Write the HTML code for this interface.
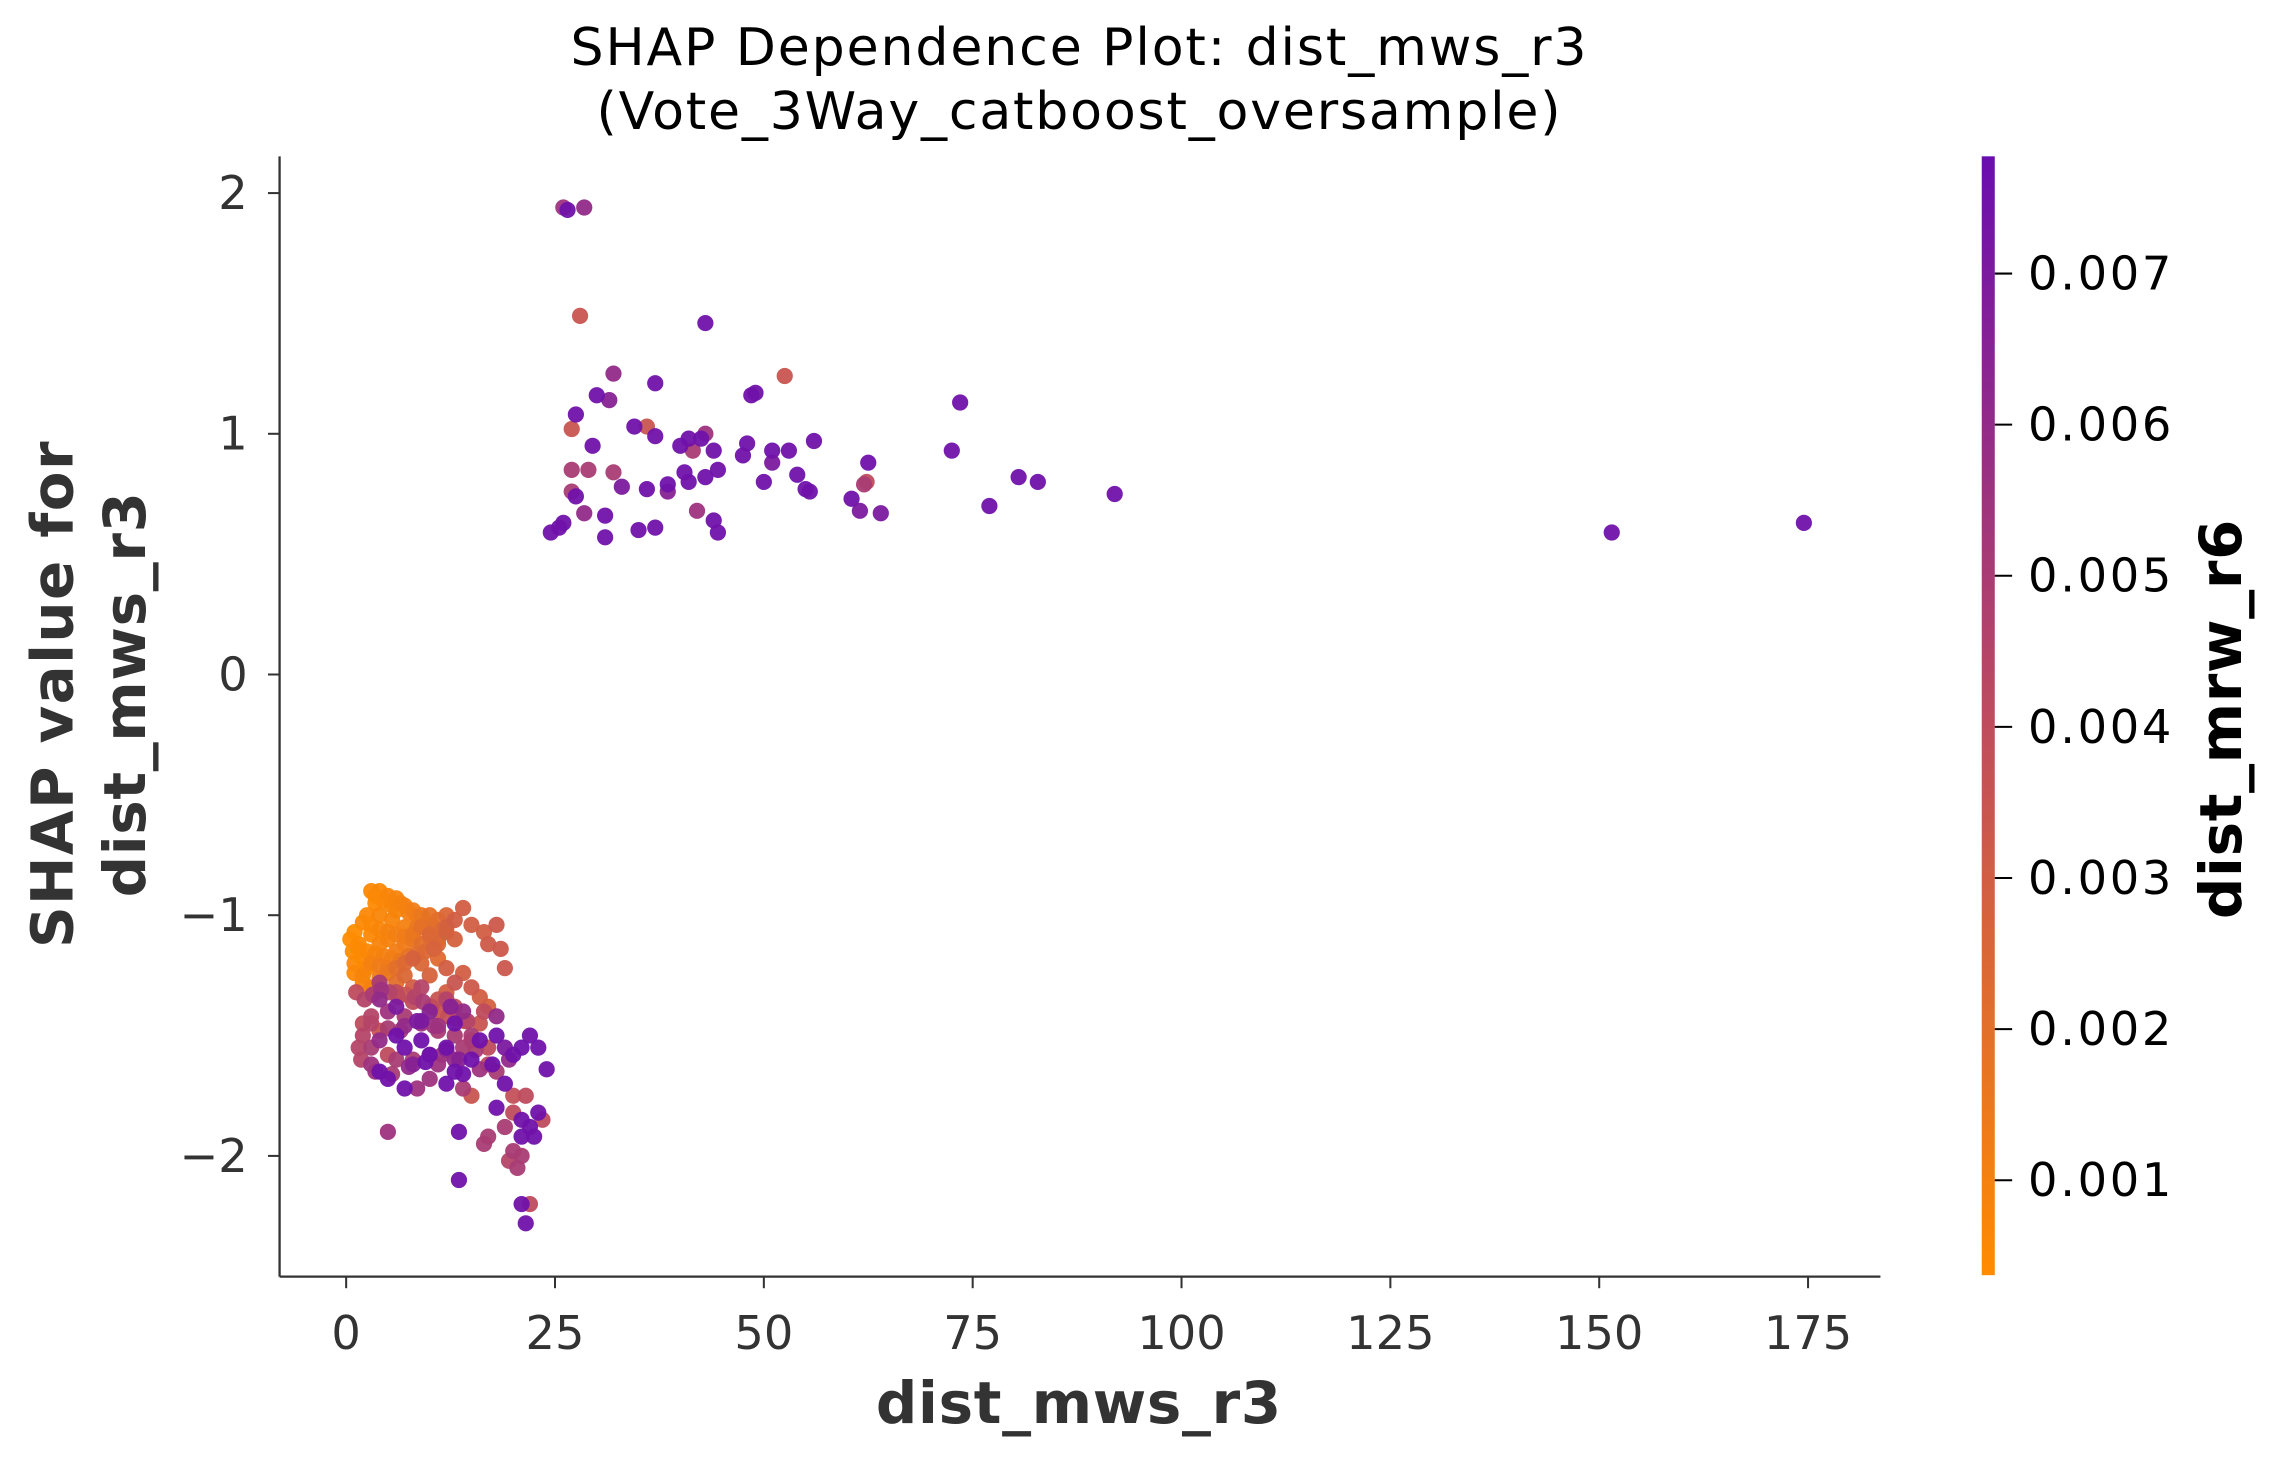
<!DOCTYPE html>
<html><head><meta charset="utf-8">
<style>
html,body{margin:0;padding:0;background:#fff;}
svg{display:block;}
text{font-family:"DejaVu Sans","Liberation Sans",sans-serif;}
</style></head>
<body>
<svg id="chart" width="2270" height="1459" viewBox="0 0 1568 1008" xmlns="http://www.w3.org/2000/svg">
<defs>
<linearGradient id="cbgrad" x1="0" y1="1" x2="0" y2="0">
<stop offset="0" stop-color="#ff8c00"/>
<stop offset="0.5" stop-color="#be4b5f"/>
<stop offset="1" stop-color="#6a0db0"/>
</linearGradient>
</defs>
<text x="745" y="45" font-size="36" text-anchor="middle" fill="#000" textLength="702">SHAP Dependence Plot: dist_mws_r3</text>
<text x="745" y="89" font-size="36" text-anchor="middle" fill="#000" textLength="666">(Vote_3Way_catboost_oversample)</text>
<g id="points"></g>
<line x1="193" y1="108" x2="193" y2="882" stroke="#333" stroke-width="1.6"/>
<line x1="193" y1="882" x2="1299" y2="882" stroke="#333" stroke-width="1.6"/>
<g id="xticks"></g>
<g id="yticks"></g>
<text x="745" y="983" font-size="40" font-weight="bold" text-anchor="middle" fill="#333" textLength="280">dist_mws_r3</text>
<g transform="translate(0,480) rotate(-90)" fill="#333" font-size="40" font-weight="bold" text-anchor="middle">
<text x="0" y="50" textLength="350">SHAP value for</text>
<text x="0" y="100" textLength="280">dist_mws_r3</text>
</g>
<rect x="1369" y="108" width="9" height="773" fill="url(#cbgrad)"/>
<g id="cbticks"></g>
<text transform="translate(1548,497) rotate(-90)" font-size="40" font-weight="bold" text-anchor="middle" fill="#000" textLength="276">dist_mrw_r6</text>
</svg>
<script>
const xTicks=[0,25,50,75,100,125,150,175];
const yTicks=[2,1,0,-1,-2];
const cbTicks=[0.001,0.002,0.003,0.004,0.005,0.006,0.007];
const cbTickLabels=["0.001","0.002","0.003","0.004","0.005","0.006","0.007"];
// feature values (dist_mws_r3)
const featX=[26,26.5,28.5,28,43,52.5,32,37,30,31.5,49,48.5,73.5,27.5,34.5,27,36,37,41,43,42.5,40,44,41.5,48,47.5,51,53,56,72.5,29.5,32,29,27,33,36,38.5,38.5,40.5,41,43,44.5,50,51,54,55,55.5,62.5,62,62.3,60.5,61.5,64,77,80.5,82.8,92,151.5,174.5,27,27.5,28.5,26,25.5,24.5,31,31,35,37,42,44,44.5,
3,4,5,6,3.5,7,8,9,10,11,12,14,2.5,4,5.5,7,8.5,6,1,0.5,1.5,0.8,2,1,2.5,3,4,5,6,7,8,9,10,11,12,13,15,16.5,18,17,18.5,19,2,3,4,5,6,7,8,9,10,11,12,13,14,15,16,17,4,5,3,2,6,7,8,9,10,11,12,13,14,15,16,2,3,4,5,6,7,8,9,10,11,12,13,14,15,16,17,18,19,20,21,22,23,24,1.5,1.8,3,4,5,7,8.5,10,12,13,14,15,17,18,19,20,18,20,21,22,23,23.5,22.5,21,19,17,16.5,20,21,20.5,19.5,13.5,5,13.5,21,22,21.5,4,6,9,11,13,12,
3.5,4.5,5.5,6.5,7.5,8.5,9.5,10.5,11.5,2,3,4,5,6,7,8,9,10,11,12,13,1.5,2.5,3.5,4.5,5.5,6.5,7.5,8.5,9.5,10.5,1,2,3,4,5,6,7,8,1.2,2.2,3.2,4.2,5.2,6.2,7.2,8.2,9.2,10.2,11.2,12.2,13.2,14.2,3,5,7,9,11,13,15,4,6,8,10,12,14,16,18,6.5,8.5,10.5,12.5,14.5,16.5,3.5,5.5,7.5,9.5,11.5,13.5,15.5,17.5,19.5,21.5];
// SHAP values
const shapY=[1.94,1.93,1.94,1.49,1.46,1.24,1.25,1.21,1.16,1.14,1.17,1.16,1.13,1.08,1.03,1.02,1.03,0.99,0.98,1.0,0.98,0.95,0.93,0.93,0.96,0.91,0.93,0.93,0.97,0.93,0.95,0.84,0.85,0.85,0.78,0.77,0.79,0.76,0.84,0.80,0.82,0.85,0.8,0.88,0.83,0.77,0.76,0.88,0.79,0.80,0.73,0.68,0.67,0.7,0.82,0.8,0.75,0.59,0.63,0.76,0.74,0.67,0.63,0.61,0.59,0.66,0.57,0.6,0.61,0.68,0.64,0.59,
-0.9,-0.9,-0.92,-0.93,-0.95,-0.96,-0.98,-1.0,-1.0,-1.02,-1.0,-0.97,-1.0,-1.0,-1.02,-1.05,-1.05,-0.98,-1.07,-1.1,-1.12,-1.15,-1.18,-1.2,-1.22,-1.08,-1.12,-1.1,-1.15,-1.12,-1.1,-1.12,-1.08,-1.12,-1.05,-1.1,-1.04,-1.07,-1.04,-1.12,-1.14,-1.22,-1.28,-1.3,-1.26,-1.22,-1.28,-1.25,-1.3,-1.2,-1.25,-1.18,-1.22,-1.28,-1.24,-1.3,-1.34,-1.38,-1.35,-1.4,-1.42,-1.45,-1.38,-1.42,-1.36,-1.45,-1.4,-1.48,-1.35,-1.45,-1.4,-1.5,-1.45,-1.5,-1.55,-1.52,-1.58,-1.5,-1.55,-1.6,-1.52,-1.58,-1.62,-1.55,-1.6,-1.55,-1.6,-1.52,-1.55,-1.5,-1.55,-1.58,-1.55,-1.5,-1.55,-1.64,-1.55,-1.6,-1.62,-1.65,-1.68,-1.72,-1.72,-1.68,-1.7,-1.65,-1.72,-1.75,-1.62,-1.65,-1.7,-1.75,-1.8,-1.82,-1.85,-1.88,-1.82,-1.85,-1.92,-1.92,-1.88,-1.92,-1.95,-1.98,-2.0,-2.05,-2.02,-1.9,-1.9,-2.1,-2.2,-2.2,-2.28,-1.28,-1.32,-1.3,-1.35,-1.38,-1.32,
-0.92,-0.94,-0.96,-0.95,-0.99,-1.01,-1.03,-1.05,-1.06,-1.03,-1.04,-1.06,-1.07,-1.08,-1.09,-1.08,-1.05,-1.09,-1.1,-1.07,-1.02,-1.14,-1.15,-1.16,-1.17,-1.18,-1.19,-1.17,-1.16,-1.15,-1.14,-1.24,-1.25,-1.2,-1.21,-1.24,-1.22,-1.2,-1.18,-1.32,-1.35,-1.33,-1.31,-1.32,-1.34,-1.33,-1.34,-1.36,-1.38,-1.4,-1.42,-1.43,-1.44,-1.45,-1.47,-1.46,-1.44,-1.46,-1.5,-1.52,-1.48,-1.6,-1.62,-1.58,-1.56,-1.66,-1.64,-1.42,-1.48,-1.44,-1.46,-1.38,-1.44,-1.4,-1.65,-1.66,-1.63,-1.61,-1.58,-1.6,-1.56,-1.62,-1.6,-1.75];
// interaction feature values (dist_mrw_r6, x0.001)
const colorVal=[5.5,7.5,6,3.5,7.5,3.5,6,7.5,7.5,6.5,7.5,7.5,7.5,7.5,7.5,3.5,3.5,7.5,7.5,5.5,7.5,7.5,7.5,5,7.5,7.5,7.5,7.5,7.5,7.5,7.5,5,5,5,7,7.5,7.5,6.5,7.5,7.5,7.5,7.5,7.5,7,7.5,7.5,7.5,7.5,5,4,7.5,7,7,7.5,7.5,7.5,7.5,7.5,7.5,5,7.5,6,7.5,7.5,7.5,7.5,7.5,7.5,7.5,5.5,7.5,7.5,
0.6,0.6,0.7,0.8,0.5,1,1.2,1.5,1.8,2,2.5,3,0.6,0.7,0.8,1,1.5,0.8,0.4,0.4,0.5,0.4,0.5,0.5,0.6,0.6,0.8,0.9,1.2,1.3,1.6,2,2.5,2.5,2.8,2.8,3,3,3.3,3.2,3.3,3.4,0.8,1,1.2,1.4,2,2.5,3,2.5,2.7,2.2,3,3.5,3,3.3,3,2.8,6,5.5,4.5,4,7,5,4,5.5,6.5,5,4.5,7.5,6,5,3.5,4.5,5,6,4,7.5,7.5,5,7.5,6.5,5.5,7.5,6,5,7.5,7.5,4,7.5,7,7.5,7.5,7.5,7.5,7.5,4.5,4.5,5.5,7.5,7.5,7.5,5.5,5.5,7.5,7.5,5,3.5,4,5,7.5,3.8,7.5,4,7.5,7.5,7.5,4,7.5,7.5,5,5,5,5,5,5,4.5,7.5,5.5,7.5,7.5,4,7.5,5,4,4.5,3.5,4,3,
0.5,0.6,0.7,0.9,1.0,1.3,1.6,2.0,2.4,0.5,0.6,0.7,0.9,1.1,1.3,1.6,1.9,2.2,2.5,2.8,3.0,0.5,0.6,0.8,1.0,1.2,1.5,1.8,2.1,2.4,2.7,0.6,0.8,1.0,1.3,1.6,2.0,2.4,2.8,4.0,4.5,5.0,5.5,4.5,4.0,3.5,4.5,5.0,4.0,3.5,3.8,3.2,3.0,4.5,5.0,6.0,7.0,5.5,5.0,4.5,3.5,5.0,6.5,7.5,6.0,7.5,5.5,6.0,5.0,7.0,5.5,6.5,4.5,4.0,5.5,5.0,6.0,7.5,5.5,6.5,5.0,7.5,6.0,4.0];

const sx=v=>239+v*(1249-239)/175;
const sy=v=>466-v*166.3;
const cy=v=>189+(0.007-v)*104400;
const cMin=0.38,cMax=7.78;
function cmap(v){
  let t=Math.max(0,Math.min(1,(v-cMin)/(cMax-cMin)));
  const a=[255,140,0],m=[190,75,95],b=[106,13,176];
  let p,q,u;
  if(t<0.5){p=a;q=m;u=t/0.5;}else{p=m;q=b;u=(t-0.5)/0.5;}
  return 'rgb('+p.map((c,i)=>Math.round(c+(q[i]-c)*u)).join(',')+')';
}
const NS='http://www.w3.org/2000/svg';
const pg=document.getElementById('points');
const order=[...featX.keys()].sort((i,j)=>colorVal[i]-colorVal[j]);
order.forEach(i=>{
  const c=document.createElementNS(NS,'circle');
  c.setAttribute('cx',sx(featX[i]));
  c.setAttribute('cy',sy(shapY[i]));
  c.setAttribute('r',5.6);
  c.setAttribute('fill',cmap(colorVal[i]));
  c.setAttribute('fill-opacity',0.95);
  
  
  pg.appendChild(c);
});
const xg=document.getElementById('xticks');
xTicks.forEach(v=>{
  const l=document.createElementNS(NS,'line');
  l.setAttribute('x1',sx(v));l.setAttribute('x2',sx(v));
  l.setAttribute('y1',882);l.setAttribute('y2',890);
  l.setAttribute('stroke','#333');l.setAttribute('stroke-width',1.4);
  
  
  xg.appendChild(l);
  const t=document.createElementNS(NS,'text');
  t.setAttribute('x',sx(v));t.setAttribute('y',932);
  t.setAttribute('font-size',32);t.setAttribute('text-anchor','middle');t.setAttribute('fill','#333');
  t.textContent=v;
  
  
  xg.appendChild(t);
});
const yg=document.getElementById('yticks');
yTicks.forEach(v=>{
  const l=document.createElementNS(NS,'line');
  l.setAttribute('x1',185);l.setAttribute('x2',193);
  l.setAttribute('y1',sy(v));l.setAttribute('y2',sy(v));
  l.setAttribute('stroke','#333');l.setAttribute('stroke-width',1.4);
  
  
  yg.appendChild(l);
  const t=document.createElementNS(NS,'text');
  t.setAttribute('x',171);t.setAttribute('y',sy(v)+11);
  t.setAttribute('font-size',32);t.setAttribute('text-anchor','end');t.setAttribute('fill','#333');
  t.textContent=v<0?'\u2212'+Math.abs(v):String(v);
  
  
  yg.appendChild(t);
});
const cg=document.getElementById('cbticks');
cbTicks.forEach((v,i)=>{
  const l=document.createElementNS(NS,'line');
  l.setAttribute('x1',1378);l.setAttribute('x2',1390);
  l.setAttribute('y1',cy(v));l.setAttribute('y2',cy(v));
  l.setAttribute('stroke','#000');l.setAttribute('stroke-width',1.4);
  
  
  cg.appendChild(l);
  const t=document.createElementNS(NS,'text');
  t.setAttribute('x',1401);t.setAttribute('y',cy(v)+11);
  t.setAttribute('font-size',32);t.setAttribute('fill','#000');
  t.setAttribute('textLength',99);
  t.textContent=cbTickLabels[i];
  
  
  cg.appendChild(t);
});
</script>
</body></html>
